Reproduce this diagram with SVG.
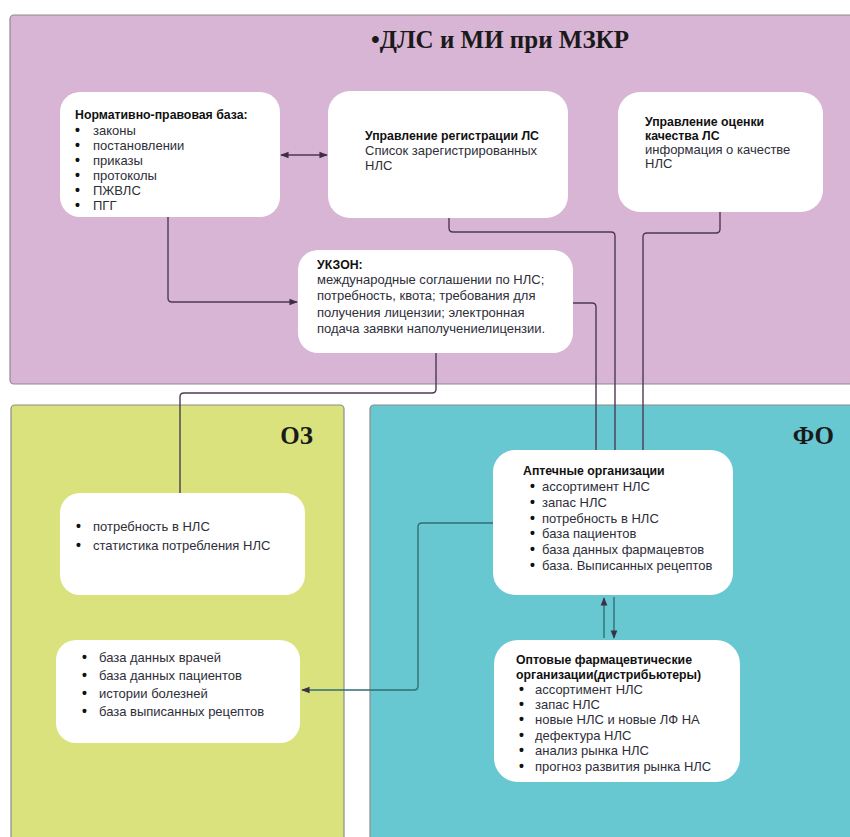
<svg xmlns="http://www.w3.org/2000/svg" width="850" height="837" viewBox="0 0 850 837">
<style>
.panel{stroke:#8c8c8c;stroke-width:1.2}
.box{fill:#ffffff}
.t{font-family:"Liberation Sans","Open Sans",Arial,sans-serif;font-size:13px;fill:#2e2e38}
.b{font-weight:bold;font-size:12.3px;fill:#111}
.d{font-size:14px;font-weight:bold;fill:#111}
.h{font-family:"Liberation Serif","Times New Roman",serif;font-size:25px;font-weight:bold;fill:#1a1a1a}
.ln{fill:none;stroke:#4d3a52;stroke-width:1.4;stroke-linejoin:round}
.lt{fill:none;stroke:#2f6f74;stroke-width:1.4;stroke-linejoin:round}
</style>
<defs>
<marker id="ah" viewBox="0 0 10 10" refX="9" refY="5" markerWidth="6" markerHeight="6" orient="auto-start-reverse">
<path d="M0,1 L10,5 L0,9 z" fill="#3d2f45"/>
</marker>
</defs>
<rect width="850" height="837" fill="#ffffff"/>
<g id="panel-mzkr">
<rect class="panel" x="10" y="15" width="850" height="369" rx="4" fill="#d8b4d5"/>
<text class="h" x="500" y="48" text-anchor="middle">•ДЛС и МИ при МЗКР</text>
</g>
<g id="panel-oz">
<rect class="panel" x="11" y="405" width="333" height="440" rx="4" fill="#d9e27d"/>
<text class="h" x="313" y="444" text-anchor="end">ОЗ</text>
</g>
<g id="panel-fo">
<rect class="panel" x="370" y="405" width="490" height="440" rx="4" fill="#68c8d2"/>
<text class="h" x="834" y="444" text-anchor="end">ФО</text>
</g>
<g id="connectors">
<line class="ln" x1="281" y1="155" x2="327" y2="155" marker-start="url(#ah)" marker-end="url(#ah)"/>
<path class="ln" d="M168,217 V298 Q168,302 172,302 H297" marker-end="url(#ah)"/>
<path class="ln" d="M449,218 V228 Q449,232 453,232 H611 Q615,232 615,236 V450"/>
<path class="ln" d="M720,212 V229 Q720,233 716,233 H647 Q643,233 643,237 V450"/>
<path class="ln" d="M573,303 H592 Q596,303 596,307 V450"/>
<path class="ln" d="M436,353 V389 Q436,393 432,393 H184 Q180,393 180,397 V493"/>
<path class="lt" d="M493,523 H422 Q418,523 418,527 V686 Q418,690 414,690 H302" marker-end="url(#ah)"/>
<line class="lt" x1="604" y1="638" x2="604" y2="598" marker-end="url(#ah)"/>
<line class="lt" x1="614" y1="597" x2="614" y2="638" marker-end="url(#ah)"/>
</g>
<g id="node-npb">
<rect class="box" x="60" y="92" width="220" height="125" rx="20"/>
<text class="t b" x="75" y="119">Нормативно-правовая база:</text>
<text class="t"><tspan class="d" x="75" y="135">•</tspan><tspan x="93" y="135">законы</tspan><tspan class="d" x="75" y="150">•</tspan><tspan x="93" y="150">постановлении</tspan><tspan class="d" x="75" y="165">•</tspan><tspan x="93" y="165">приказы</tspan><tspan class="d" x="75" y="180">•</tspan><tspan x="93" y="180">протоколы</tspan><tspan class="d" x="75" y="195">•</tspan><tspan x="93" y="195">ПЖВЛС</tspan><tspan class="d" x="75" y="210">•</tspan><tspan x="93" y="210">ПГГ</tspan></text>
</g>
<g id="node-reg">
<rect class="box" x="328" y="91" width="240" height="127" rx="22"/>
<text class="t b" x="365" y="140">Управление регистрации ЛС</text>
<text class="t" x="365" y="155">Список зарегистрированных</text>
<text class="t" x="365" y="170">НЛС</text>
</g>
<g id="node-qual">
<rect class="box" x="618" y="92" width="205" height="120" rx="22"/>
<text class="t b" x="645" y="126">Управление оценки</text>
<text class="t b" x="645" y="140">качества ЛС</text>
<text class="t" x="645" y="154">информация о качестве</text>
<text class="t" x="645" y="168">НЛС</text>
</g>
<g id="node-ukzon">
<rect class="box" x="298" y="250" width="275" height="103" rx="20"/>
<text class="t b" x="317" y="269">УКЗОН:</text>
<text class="t" x="317" y="284">международные соглашении по НЛС;</text>
<text class="t" x="317" y="300">потребность, квота; требования для</text>
<text class="t" x="317" y="317">получения лицензии; электронная</text>
<text class="t" x="317" y="333">подача заявки наполучениелицензии.</text>
</g>
<g id="node-oz1">
<rect class="box" x="60" y="493" width="245" height="102" rx="20"/>
<text class="t"><tspan class="d" x="76" y="531">•</tspan><tspan x="93" y="531">потребность в НЛС</tspan><tspan class="d" x="76" y="550">•</tspan><tspan x="93" y="550">статистика потребления НЛС</tspan></text>
</g>
<g id="node-oz2">
<rect class="box" x="56" y="640" width="244" height="103" rx="20"/>
<text class="t"><tspan class="d" x="82" y="662">•</tspan><tspan x="99" y="662">база данных врачей</tspan><tspan class="d" x="82" y="680">•</tspan><tspan x="99" y="680">база данных пациентов</tspan><tspan class="d" x="82" y="698">•</tspan><tspan x="99" y="698">истории болезней</tspan><tspan class="d" x="82" y="716">•</tspan><tspan x="99" y="716">база выписанных рецептов</tspan></text>
</g>
<g id="node-apt">
<rect class="box" x="493" y="450" width="240" height="145" rx="22"/>
<text class="t b" x="523" y="475">Аптечные организации</text>
<text class="t"><tspan class="d" x="530" y="491">•</tspan><tspan x="542" y="491">ассортимент НЛС</tspan><tspan class="d" x="530" y="507">•</tspan><tspan x="542" y="507">запас НЛС</tspan><tspan class="d" x="530" y="523">•</tspan><tspan x="542" y="523">потребность в НЛС</tspan><tspan class="d" x="530" y="538">•</tspan><tspan x="542" y="538">база пациентов</tspan><tspan class="d" x="530" y="554">•</tspan><tspan x="542" y="554">база данных фармацевтов</tspan><tspan class="d" x="530" y="570">•</tspan><tspan x="542" y="570">база. Выписанных рецептов</tspan></text>
</g>
<g id="node-opt">
<rect class="box" x="494" y="640" width="246" height="142" rx="24"/>
<text class="t b" x="516" y="664">Оптовые фармацевтические</text>
<text class="t b" x="516" y="679">организации(дистрибьютеры)</text>
<text class="t"><tspan class="d" x="519" y="694">•</tspan><tspan x="535" y="694">ассортимент НЛС</tspan><tspan class="d" x="519" y="709">•</tspan><tspan x="535" y="709">запас НЛС</tspan><tspan class="d" x="519" y="724">•</tspan><tspan x="535" y="724">новые НЛС и новые ЛФ НА</tspan><tspan class="d" x="519" y="740">•</tspan><tspan x="535" y="740">дефектура НЛС</tspan><tspan class="d" x="519" y="755">•</tspan><tspan x="535" y="755">анализ рынка НЛС</tspan><tspan class="d" x="519" y="771">•</tspan><tspan x="535" y="771">прогноз развития рынка НЛС</tspan></text>
</g>
</svg>
